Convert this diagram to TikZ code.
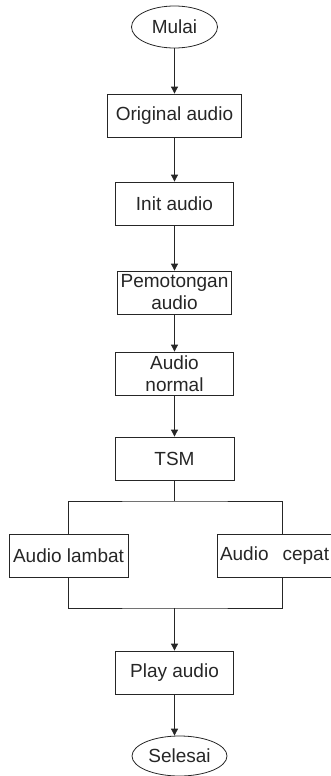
\documentclass[tikz,border=0pt]{standalone}
\usepackage{fontspec}
\setmainfont{Liberation Sans}
\usetikzlibrary{shapes.geometric,arrows.meta}
\begin{document}
\begin{tikzpicture}[x=1pt,y=-1pt,
  font=\fontsize{19}{22}\selectfont,
  every node/.style={text=black!85},
  line/.style={draw=black!85, line width=0.8pt},
  flow/.style={line, -{Triangle[length=7pt,width=7pt]}},
  stepbox/.style={line, rectangle, inner sep=0pt, align=center, minimum height=43pt},
  terminal/.style={line, ellipse, inner sep=0pt}]
\useasboundingbox (0,0) rectangle (330,776);

% process steps
\node[terminal, minimum width=86pt, minimum height=42pt] (mulai) at (174.5,27) {Mulai};
\node[stepbox, minimum width=134pt] (orig)   at (174.5,115.5) {Original audio};
\node[stepbox, minimum width=118pt] (init)   at (174.5,203.5) {Init audio};
\node[stepbox, minimum width=114pt] (potong) at (174.5,292.5) {Pemotongan\\audio};
\node[stepbox, minimum width=118pt] (normal) at (174.5,373.5) {Audio\\normal};
\node[stepbox, minimum width=119pt] (tsm)    at (174.5,458.5) {TSM};
\node[stepbox, minimum width=119pt] (lambat) at (68.5,555.5) {Audio lambat};
\node[stepbox, minimum width=130pt, text width=124pt, align=left] (cepat) at (282,555.5) {Audio\hspace{14pt}cepat};
\node[stepbox, minimum width=118pt] (play)   at (174.5,672.5) {Play audio};
\node[terminal, minimum width=95pt, minimum height=40pt] (selesai) at (179.5,756) {Selesai};

% branch and merge points
\coordinate (split) at (174.5,501);
\coordinate (merge) at (174.5,608);

% connectors
\draw[flow] (mulai.south) -- (orig.north);
\draw[flow] (orig.south) -- (init.north);
\draw[flow] (init.south) -- (potong.north);
\draw[flow] (potong.south) -- (normal.north);
\draw[flow] (normal.south) -- (tsm.north);
\draw[line] (tsm.south) -- (split);
\draw[line] (lambat.north) |- (split) -| (cepat.north);
\draw[line] (lambat.south) |- (merge) -| (cepat.south);
\draw[flow] (merge) -- (play.north);
\draw[flow] (play.south) -- (play.south |- selesai.north);
\end{tikzpicture}
\end{document}
